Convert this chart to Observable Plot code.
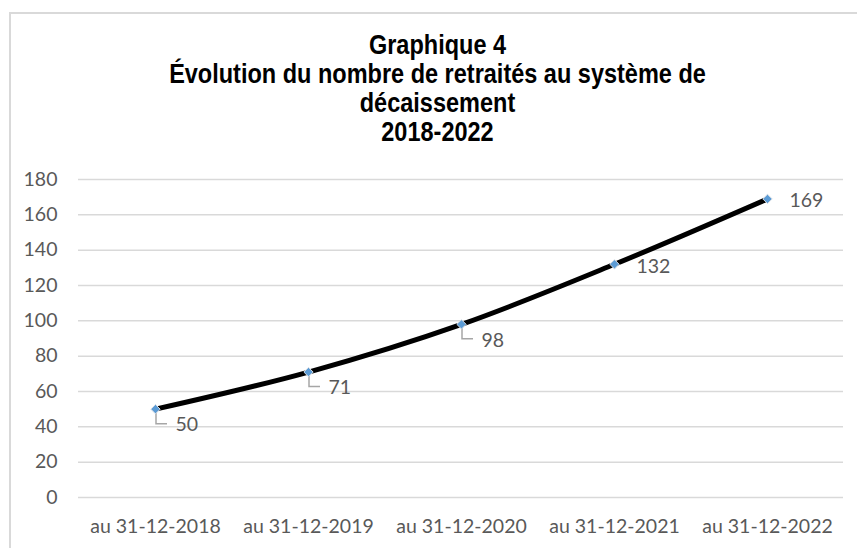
<!DOCTYPE html>
<html>
<head>
<meta charset="utf-8">
<script src="https://cdn.jsdelivr.net/npm/d3@7"></script>
<script src="https://cdn.jsdelivr.net/npm/@observablehq/plot@0.6"></script>
<style>
  html, body { margin: 0; padding: 0; background: #fff; width: 857px; height: 548px; overflow: hidden; }
  #frame { position: absolute; left: 9px; top: 12px; width: 900px; height: 600px;
           border-left: 2.5px solid #d9d9d9; border-top: 2.5px solid #d9d9d9; box-sizing: border-box; }
  #title { position: absolute; left: 10px; width: 855px; top: 31px; text-align: center;
           font-family: "Liberation Sans", Arial, sans-serif; font-weight: bold; font-size: 23.5px;
           line-height: 25px; color: #000; transform: scaleY(1.16); transform-origin: top center; }
  #chart { position: absolute; left: 0; top: 160px; }
</style>
</head>
<body>
<div id="frame"></div>
<div id="title">Graphique 4<br>Évolution du nombre de retraités au système de<br>décaissement<br>2018-2022</div>
<div id="chart"></div>
<script>
const categories = ["au 31-12-2018", "au 31-12-2019", "au 31-12-2020", "au 31-12-2021", "au 31-12-2022"];
const values = [50, 71, 98, 132, 169];
const yTicks = [0, 20, 40, 60, 80, 100, 120, 140, 160, 180];

// layout: which data labels get a leader line
const leader = [true, true, true, false, false];

const data = categories.map((c, i) => ({cat: c, value: values[i], leader: leader[i]}));
const withLeader = data.filter(d => d.leader);
const noLeader = data.filter(d => !d.leader);

const font = "Lato, 'Open Sans', sans-serif";

const leaderMark = (index, scales) => {
  const g = d3.create("svg:g");
  for (const d of withLeader) {
    const px = scales.x(d.cat) + 1;
    const py = scales.y(d.value);
    g.append("path")
      .attr("d", `M${px},${py + 3}V${py + 15}H${px + 11}`)
      .attr("fill", "none")
      .attr("stroke", "#a6a6a6")
      .attr("stroke-width", 1.5);
  }
  return g.node();
};

const chart = Plot.plot({
  width: 857,
  height: 388,
  marginTop: 19,
  marginBottom: 51,
  marginLeft: 78,
  marginRight: 14,
  style: {fontFamily: font, fontSize: "19.5px", color: "#595959", background: "transparent"},
  x: {type: "point", domain: categories, padding: 0.5, label: null},
  y: {domain: [0, 180], ticks: yTicks, label: null},
  marks: [
    Plot.ruleY(yTicks, {stroke: "#d9d9d9", strokeWidth: 1.5}),
    Plot.axisY({ticks: yTicks, tickSize: 0, tickPadding: 21, label: null, fill: "#595959"}),
    Plot.axisX({tickSize: 0, tickPadding: 22, label: null, fill: "#595959"}),
    leaderMark,
    Plot.line(data, {x: "cat", y: "value", stroke: "#000", strokeWidth: 5, curve: "catmull-rom"}),
    Plot.dot(data, {x: "cat", y: "value", symbol: "diamond2", r: 4.2, fill: "#5B9BD5", stroke: "#d6dde5", strokeWidth: 1}),
    Plot.text(withLeader, {x: "cat", y: "value", text: d => String(d.value), textAnchor: "start", dx: 20, dy: 16, fill: "#595959"}),
    Plot.text(noLeader, {x: "cat", y: "value", text: d => String(d.value), textAnchor: "start", dx: 22, dy: 2, fill: "#595959"})
  ]
});
document.getElementById("chart").appendChild(chart);
</script>
</body>
</html>
